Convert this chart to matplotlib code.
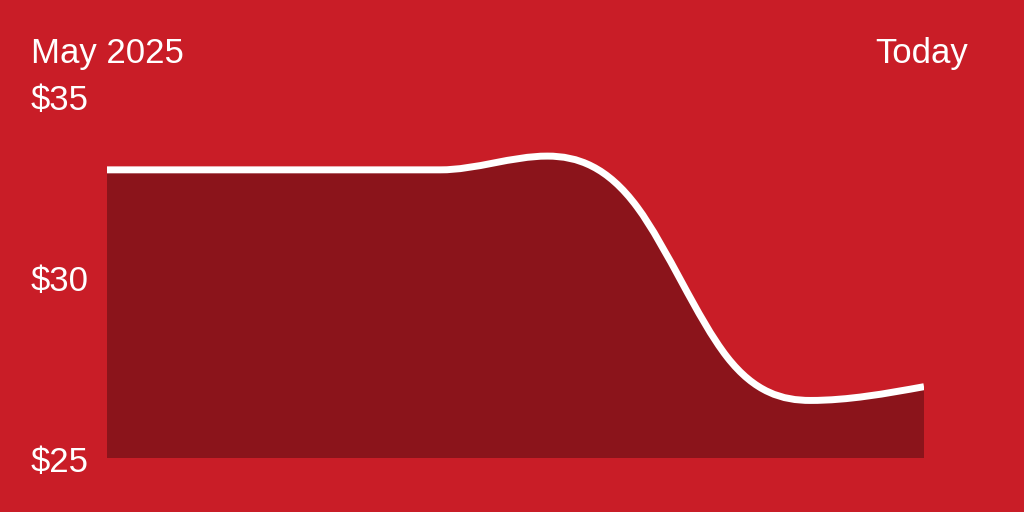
import numpy as np
import matplotlib
matplotlib.use("Agg")
import matplotlib.pyplot as plt
from matplotlib.path import Path
from matplotlib.patches import PathPatch
from matplotlib.transforms import blended_transform_factory, offset_copy

# price history, x as fraction of the period May 2025 -> today
x_pos = [0.0, 0.408, 0.539, 0.649, 0.759, 0.861, 1.0]
prices = [32.96, 32.96, 33.34, 31.93, 27.79, 26.59, 26.97]
y_ticks = [25, 30, 35]
y_labels = ["$25", "$30", "$35"]
start_label = "May 2025"
end_label = "Today"

BG = "#c91d27"
FILL = "#8b141b"
plt.rcParams["font.family"] = ["Liberation Sans", "DejaVu Sans"]


def smooth_path(xs, ys):
    # monotone tangents (d3 style), then C2 between flat/extreme knots
    xs = np.asarray(xs, float)
    ys = np.asarray(ys, float)
    n = len(xs)
    h = np.diff(xs)
    s = np.diff(ys) / h
    t = np.zeros(n)
    for i in range(1, n - 1):
        p = (s[i - 1] * h[i] + s[i] * h[i - 1]) / (h[i - 1] + h[i])
        t[i] = (np.sign(s[i - 1]) + np.sign(s[i])) * min(abs(s[i - 1]), abs(s[i]), 0.5 * abs(p))
    t[0] = (3 * s[0] - t[1]) / 2
    t[-1] = (3 * s[-1] - t[-2]) / 2

    anchors = [i for i in range(n) if i in (0, n - 1) or t[i] == 0]
    for a, b in zip(anchors[:-1], anchors[1:]):
        m = b - a - 1
        if m < 1:
            continue
        A = np.zeros((m, m))
        r = np.zeros(m)
        for k, i in enumerate(range(a + 1, b)):
            A[k, k] = 2 * (h[i - 1] + h[i])
            r[k] = 3 * (h[i] * s[i - 1] + h[i - 1] * s[i])
            if k > 0:
                A[k, k - 1] = h[i]
            else:
                r[k] -= h[i] * t[a]
            if k < m - 1:
                A[k, k + 1] = h[i - 1]
            else:
                r[k] -= h[i - 1] * t[b]
        t[a + 1:b] = np.linalg.solve(A, r)

    verts = [(xs[0], ys[0])]
    codes = [Path.MOVETO]
    for i in range(n - 1):
        dx = h[i] / 3
        verts += [(xs[i] + dx, ys[i] + dx * t[i]),
                  (xs[i + 1] - dx, ys[i + 1] - dx * t[i + 1]),
                  (xs[i + 1], ys[i + 1])]
        codes += [Path.CURVE4] * 3
    return verts, codes


fig = plt.figure(figsize=(10.24, 5.12), dpi=100, facecolor=BG)
ax = fig.add_axes([107 / 1024, 54 / 512, 817 / 1024, 362 / 512])
ax.set_facecolor(BG)
ax.set_xlim(0, 1)
ax.set_ylim(25, 35)
ax.axis("off")

verts, codes = smooth_path(x_pos, prices)

# area under the curve
fverts = verts + [(x_pos[-1], 25), (x_pos[0], 25), verts[0]]
fcodes = codes + [Path.LINETO, Path.LINETO, Path.CLOSEPOLY]
ax.add_patch(PathPatch(Path(fverts, fcodes), facecolor=FILL, edgecolor="none"))

ax.add_patch(PathPatch(Path(verts, codes), facecolor="none", edgecolor="white",
                       linewidth=5, capstyle="butt", joinstyle="round"))

trans = blended_transform_factory(fig.transFigure, ax.transData)
trans = offset_copy(trans, fig=fig, y=-14, units="dots")
for v, lab in zip(y_ticks, y_labels):
    fig.text(31 / 1024, v, lab, transform=trans, color="white", fontsize=25,
             ha="left", va="baseline")

fig.text(31 / 1024, 1 - 63 / 512, start_label, color="white", fontsize=25,
         ha="left", va="baseline")
fig.text(968 / 1024, 1 - 63 / 512, end_label, color="white", fontsize=25,
         ha="right", va="baseline")

fig.savefig("out.png", dpi=100, facecolor=BG)
plt.close(fig)
